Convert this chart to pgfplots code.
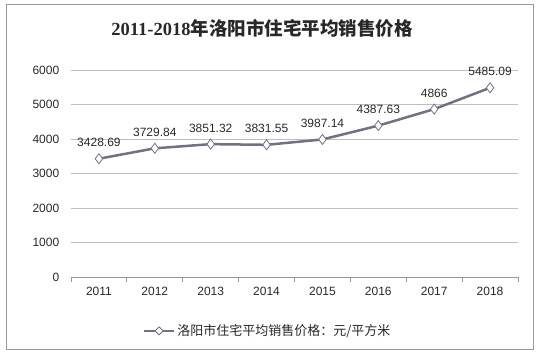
\documentclass[border=0pt]{standalone}
\usepackage{pgfplots}
\pgfplotsset{compat=1.18}
\usepackage{fontspec}
\setmainfont{Liberation Sans}
\newfontfamily\cjk{Noto Sans CJK SC}
\newfontfamily\serifdig{Liberation Serif}
\definecolor{linec}{RGB}{112,114,132}
\definecolor{gridc}{RGB}{190,190,190}
\definecolor{txtc}{RGB}{40,40,40}
\pgfplotstableread{
x y lab
0 3428.69 3428.69
1 3729.84 3729.84
2 3851.32 3851.32
3 3831.55 3831.55
4 3987.14 3987.14
5 4387.63 4387.63
6 4866 4866
7 5485.09 5485.09
}\datatable
\begin{document}
\begin{tikzpicture}[x=1pt,y=1pt]
\useasboundingbox (-71,-77) rectangle (469,277);
\draw[gray!80, line width=1pt] (-64,-72) rectangle (462,272);
\begin{axis}[
  at={(0,0)}, anchor=south west,
  scale only axis, width=447pt, height=207pt,
  xmin=-0.5, xmax=7.5, ymin=0, ymax=6000,
  axis x line*=bottom, axis y line*=left,
  y axis line style={draw=none},
  xtick={0,...,7},
  xticklabels={2011,2012,2013,2014,2015,2016,2017,2018},
  major x tick style={draw=none},
  minor xtick={-0.5,0.5,...,7.5},
  minor tick length=5pt,
  tick align=outside,
  x axis line style={gridc!80!black, line width=0.8pt},
  minor x tick style={gridc!80!black, line width=0.8pt},
  ytick={0,1000,...,6000},
  major y tick style={draw=none},
  ymajorgrids,
  grid style={gridc, line width=0.8pt},
  /pgf/number format/assume math mode=true,
  /pgf/number format/1000 sep={},
  tick label style={font=\fontsize{12}{14}\selectfont, text=txtc},
  yticklabel style={xshift=-4pt},
  xticklabel style={yshift=-2pt},
  clip=false,
  legend style={at={(0.44,-0.26)}, anchor=center, draw=none, fill=none,
    font=\cjk\fontsize{13}{15}\selectfont, text=txtc},
  legend image code/.code={
    \draw[linec, line width=2.5pt] (0pt,0pt) -- (30pt,0pt);
    \draw[linec, fill=white, line width=0.8pt] (15pt,4pt) -- (19pt,0pt) -- (15pt,-4pt) -- (11pt,0pt) -- cycle;
  },
]
\addplot[linec, line width=2.5pt,
  mark=diamond*, mark size=5pt,
  mark options={fill=white, draw=linec, line width=0.8pt},
  nodes near coords, point meta=explicit symbolic,
  every node near coord/.append style={font=\fontsize{12}{14}\selectfont, text=txtc, yshift=8pt},
] table[x=x, y=y, meta=lab] {\datatable};
\addlegendentry{洛阳市住宅平均销售价格：元/平方米}
\end{axis}
\node[text=txtc, font=\fontsize{18.5}{22}\selectfont\bfseries] at (191,249) {{\serifdig 2011-2018}{\cjk 年洛阳市住宅平均销售价格}};
\end{tikzpicture}
\end{document}
